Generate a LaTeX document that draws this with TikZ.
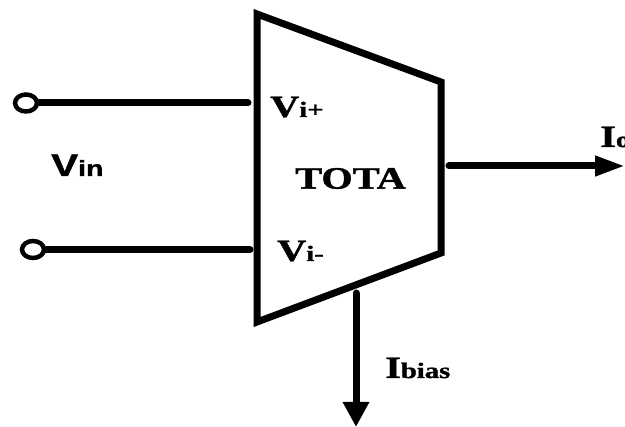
\documentclass[tikz,border=0pt]{standalone}
\usepackage{fontspec}
\setmainfont[BoldFeatures={FakeBold=1.2}]{Liberation Serif}
\setsansfont[BoldFeatures={FakeBold=1.2}]{Liberation Sans}
\usetikzlibrary{arrows.meta,shapes.geometric}
\tikzset{
  wire/.style={line width=7pt,line cap=round},
  port/.style={draw,ellipse,line width=4.5pt,fill=white,inner sep=0pt,minimum width=22pt,minimum height=17pt},
  lab/.style={anchor=base west,inner sep=0pt,xscale=1.3,font=\bfseries},
}
\newcommand{\bigtxt}[1]{{\fontsize{31}{31}\selectfont #1}}
\newcommand{\smalltxt}[1]{{\fontsize{22}{22}\selectfont #1}}
\begin{document}
\begin{tikzpicture}[x=1pt,y=-1pt]
  \useasboundingbox (0,0) rectangle (625,427);
  \clip (0,0) rectangle (625,427);
  % amplifier body
  \coordinate (tl) at (257,14);
  \coordinate (tr) at (441,82);
  \coordinate (br) at (441,253);
  \coordinate (bl) at (257,322);
  \draw[line width=7pt,line join=miter] (tl) -- (tr) -- (br) -- (bl) -- cycle;
  % terminals and wire ends
  \node[port] (inp) at (26,103) {};
  \node[port] (inm) at (33,249.5) {};
  \coordinate (ip) at (248,103);
  \coordinate (im) at (250,249.5);
  \coordinate (outa) at (449,166);
  \coordinate (outb) at (625,166);
  \coordinate (biasa) at (356,293);
  \coordinate (biasb) at (356,427);
  \path[wire]
    (inp) edge (ip)
    (inm) edge (im);
  \draw[wire,-{Triangle[length=30pt,width=19pt]}] (outa) -- (outb);
  \draw[wire,-{Triangle[length=25pt,width=25pt]}] (biasa) -- (biasb);
  % labels
  \node[lab] (vip) at (270,117) {\bigtxt{V}\smalltxt{i+}};
  \node[lab] (vim) at (277,261) {\bigtxt{V}\smalltxt{i-}};
  \node[lab,anchor=center] (tota) at (350.5,178.5) {\bigtxt{TOTA}};
  \node[lab,font=\sffamily\bfseries] (vin) at (51,176) {\bigtxt{V}\smalltxt{in}};
  \node[lab] (ibias) at (385,378) {\bigtxt{I}\smalltxt{bias}};
  \node[lab] (io) at (600,147) {\bigtxt{I}\smalltxt{o}};
\end{tikzpicture}
\end{document}
